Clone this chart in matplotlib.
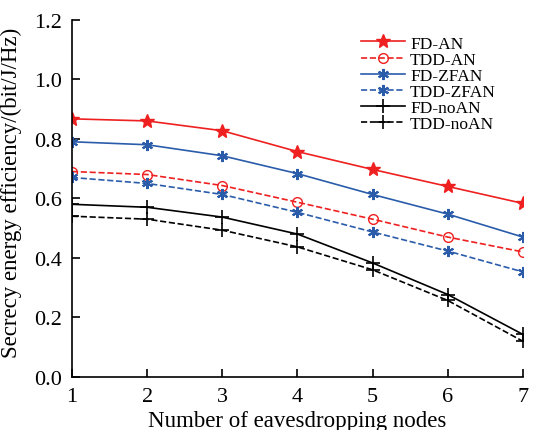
import numpy as np
import matplotlib
matplotlib.use('Agg')
import matplotlib.pyplot as plt

plt.rcParams['font.family'] = ['Liberation Serif', 'DejaVu Serif']

# ==================== Data ====================
nodes = [1, 2, 3, 4, 5, 6, 7]
fd_an = [0.867, 0.860, 0.827, 0.757, 0.697, 0.640, 0.583]
tdd_an = [0.690, 0.680, 0.643, 0.587, 0.530, 0.470, 0.420]
fd_zfan = [0.790, 0.780, 0.743, 0.683, 0.613, 0.547, 0.470]
tdd_zfan = [0.670, 0.650, 0.613, 0.553, 0.487, 0.423, 0.353]
fd_noan = [0.580, 0.570, 0.537, 0.480, 0.383, 0.277, 0.143]
tdd_noan = [0.540, 0.530, 0.493, 0.437, 0.360, 0.257, 0.120]

RED = '#ee2020'
BLUE = '#2a5caa'
BLACK = '#000000'

fig = plt.figure(figsize=(5.33, 4.31), dpi=100)
ax = fig.add_axes([0.135, 0.123, 0.846, 0.829])

ax.plot(nodes, fd_an, '-', color=RED, marker='*', ms=10, lw=1.2, label='FD-AN')
ax.plot(nodes, tdd_an, '--', color=RED, marker='o', ms=7, mfc='none',
        lw=1.2, label='TDD-AN')
ax.plot(nodes, fd_zfan, '-', color=BLUE, marker=(6, 2, 0), ms=8, mew=1.5,
        lw=1.2, label='FD-ZFAN')
ax.plot(nodes, tdd_zfan, '--', color=BLUE, marker=(6, 2, 0), ms=8, mew=1.5,
        lw=1.2, label='TDD-ZFAN')
ax.plot(nodes, fd_noan, '-', color=BLACK, marker='+', ms=10, mew=1.2,
        lw=1.2, label='FD-noAN')
ax.plot(nodes, tdd_noan, '--', color=BLACK, marker='+', ms=10, mew=1.2,
        lw=1.2, label='TDD-noAN')

ax.set_xlim(1, 7)
ax.set_ylim(0, 1.2)
ax.set_xticks(nodes)
ax.set_yticks(np.arange(0, 1.21, 0.2))
ax.set_yticklabels([f'{v:.1f}' for v in np.arange(0, 1.21, 0.2)])
ax.tick_params(direction='in', labelsize=16, length=6, width=1.2, pad=7)
ax.spines['top'].set_visible(False)
ax.spines['right'].set_visible(False)
ax.spines['left'].set_linewidth(1.2)
ax.spines['bottom'].set_linewidth(1.2)

ax.set_xlabel('Number of eavesdropping nodes', fontsize=16.5, labelpad=3)
ax.set_ylabel('Secrecy energy efficiency/(bit/J/Hz)', fontsize=16.5)
ax.yaxis.set_label_coords(-0.111, 0.517)

ax.legend(loc='upper right', bbox_to_anchor=(0.967, 0.99), frameon=False,
          fontsize=12.5, handlelength=2.5, labelspacing=0.0,
          borderpad=0.2, handletextpad=0.3)

fig.savefig('out.png', dpi=100)
